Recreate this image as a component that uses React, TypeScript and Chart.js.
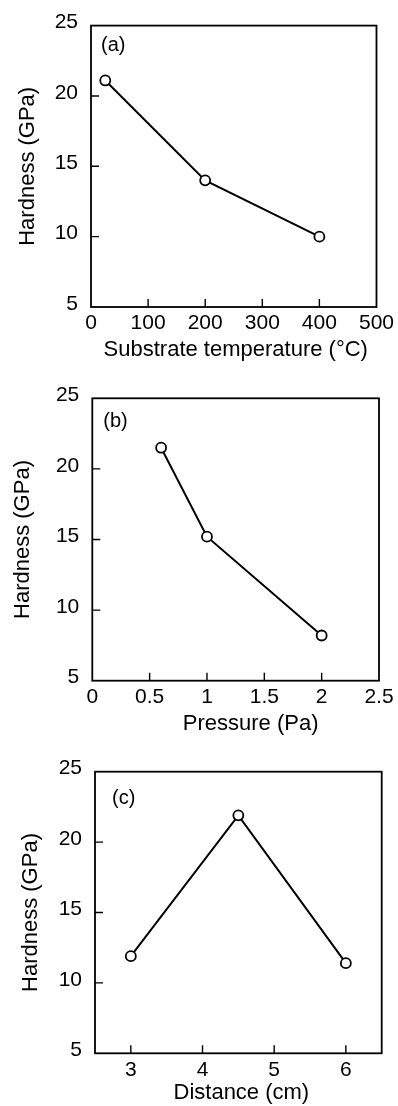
import React, { useEffect, useRef } from "react";
import { Chart, registerables } from "chart.js";

Chart.register(...registerables);

const FONT = "'Liberation Sans', Arial, Helvetica, sans-serif";

// Shared y axis
const hardnessTicks = [5, 10, 15, 20, 25];

// Panel (a)
const tempTicks = [0, 100, 200, 300, 400, 500];
const tempValues = [25, 200, 400];
const tempHardness = [21.1, 14.0, 10.0];

// Panel (b)
const pressureTicks = [0, 0.5, 1, 1.5, 2, 2.5];
const pressureValues = [0.6, 1, 2];
const pressureHardness = [21.5, 15.2, 8.2];

// Panel (c)
const distanceTicks = [3, 4, 5, 6];
const distanceValues = [3, 4.5, 6];
const distanceHardness = [11.9, 21.9, 11.4];

type Spec = {
  tag: string;
  xTitle: string;
  xs: number[];
  ys: number[];
  xTicks: number[];
  xMin: number;
  xMax: number;
  top: number;
  height: number;
  padTop: number;
  padRight: number;
  yAxisW: number;
  xAxisH: number;
  xTitleCenter: number;
  xTitleDx: number;
  yTitlePad: number;
  tagDx: number;
  tagDy: number;
};

const panels: Spec[] = [
  {
    tag: "(a)", xTitle: "Substrate temperature (°C)", xs: tempValues, ys: tempHardness,
    xTicks: tempTicks, xMin: 0, xMax: 500,
    top: 0, height: 370, padTop: 24, padRight: 20, yAxisW: 91, xAxisH: 63,
    xTitleCenter: 350, xTitleDx: 2, yTitlePad: 14.3, tagDx: 10, tagDy: 20,
  },
  {
    tag: "(b)", xTitle: "Pressure (Pa)", xs: pressureValues, ys: pressureHardness,
    xTicks: pressureTicks, xMin: 0, xMax: 2.5,
    top: 370, height: 368, padTop: 28.3, padRight: 19, yAxisW: 92.3, xAxisH: 57.3,
    xTitleCenter: 353.5, xTitleDx: 15, yTitlePad: 9.8, tagDx: 11, tagDy: 23.5,
  },
  {
    tag: "(c)", xTitle: "Distance (cm)", xs: distanceValues, ys: distanceHardness,
    xTicks: distanceTicks, xMin: 2.5, xMax: 6.5,
    top: 738, height: 368, padTop: 33.7, padRight: 16.3, yAxisW: 95, xAxisH: 52.7,
    xTitleCenter: 355, xTitleDx: 3, yTitlePad: 17.8, tagDx: 17, tagDy: 27,
  },
];

const framePlugin = {
  id: "frame",
  afterDraw(chart: any, _args: any, opts: any) {
    const { ctx, chartArea } = chart;
    const { left, right, top, bottom } = chartArea;
    const xs = chart.scales.x;
    const ys = chart.scales.y;
    ctx.save();
    ctx.strokeStyle = "#000";
    ctx.lineWidth = 1.8;
    ctx.strokeRect(left, top, right - left, bottom - top);
    ctx.lineWidth = 1.4;
    ctx.beginPath();
    xs.ticks.forEach((t: any) => {
      const px = xs.getPixelForValue(t.value);
      if (px > left + 1 && px < right - 1) {
        ctx.moveTo(px, bottom);
        ctx.lineTo(px, bottom - 8);
      }
    });
    ys.ticks.forEach((t: any) => {
      const py = ys.getPixelForValue(t.value);
      if (py > top + 1 && py < bottom - 1) {
        ctx.moveTo(left, py);
        ctx.lineTo(left + 8, py);
      }
    });
    ctx.stroke();
    ctx.fillStyle = "#000";
    ctx.textBaseline = "middle";
    ctx.font = `20px ${FONT}`;
    ctx.textAlign = "left";
    ctx.fillText(opts.tag, left + opts.tagDx, top + opts.tagDy);
    ctx.font = `22px ${FONT}`;
    ctx.textAlign = "center";
    ctx.fillText(opts.xTitle, (left + right) / 2 + opts.xTitleDx, opts.xTitleCenter);
    ctx.restore();
  },
};

function Panel({ spec }: { spec: Spec }) {
  const ref = useRef<HTMLCanvasElement>(null);
  useEffect(() => {
    const chart = new Chart(ref.current as HTMLCanvasElement, {
      type: "scatter",
      data: {
        datasets: [
          {
            data: spec.xs.map((x, i) => ({ x, y: spec.ys[i] })),
            showLine: true,
            borderColor: "#000",
            borderWidth: 2,
            pointRadius: 5,
            pointBackgroundColor: "#fff",
            pointBorderColor: "#000",
            pointBorderWidth: 1.8,
          },
        ],
      },
      options: {
        responsive: false,
        animation: false,
        devicePixelRatio: 1,
        layout: { padding: { left: 0, top: spec.padTop, right: spec.padRight, bottom: 0 } },
        plugins: {
          legend: { display: false },
          tooltip: { enabled: false },
          frame: {
            tag: spec.tag,
            tagDx: spec.tagDx,
            tagDy: spec.tagDy,
            xTitle: spec.xTitle,
            xTitleDx: spec.xTitleDx,
            xTitleCenter: spec.xTitleCenter,
          },
        } as any,
        scales: {
          x: {
            type: "linear",
            min: spec.xMin,
            max: spec.xMax,
            afterBuildTicks: (s: any) => {
              s.ticks = spec.xTicks.map((v) => ({ value: v }));
            },
            afterFit: (s: any) => {
              s.height = spec.xAxisH;
            },
            grid: { display: false, drawTicks: false },
            border: { display: false },
            ticks: {
              color: "#000",
              font: { family: FONT, size: 21 },
              padding: 4,
              maxRotation: 0,
              autoSkip: false,
              callback: (v: any) => String(v),
            },
            title: { display: false },
          },
          y: {
            type: "linear",
            min: 5,
            max: 25,
            afterBuildTicks: (s: any) => {
              s.ticks = hardnessTicks.map((v) => ({ value: v }));
            },
            afterFit: (s: any) => {
              s.width = spec.yAxisW;
            },
            grid: { display: false, drawTicks: false },
            border: { display: false },
            ticks: {
              color: "#000",
              font: { family: FONT, size: 21 },
              padding: 13,
              labelOffset: -3,
              autoSkip: false,
              callback: (v: any) => String(v),
            },
            title: {
              display: true,
              text: "Hardness (GPa)",
              color: "#000",
              font: { family: FONT, size: 22 },
              padding: { top: spec.yTitlePad, bottom: 0 },
            },
          },
        },
      },
      plugins: [framePlugin],
    } as any);
    return () => chart.destroy();
  }, []);
  return (
    <canvas
      ref={ref}
      width={398}
      height={spec.height}
      style={{ position: "absolute", left: 0, top: spec.top, width: 398, height: spec.height }}
    />
  );
}

export default function App() {
  return (
    <div style={{ position: "absolute", left: 0, top: 0, width: 398, height: 1106, background: "#fff" }}>
      {panels.map((p) => (
        <Panel key={p.tag} spec={p} />
      ))}
    </div>
  );
}
